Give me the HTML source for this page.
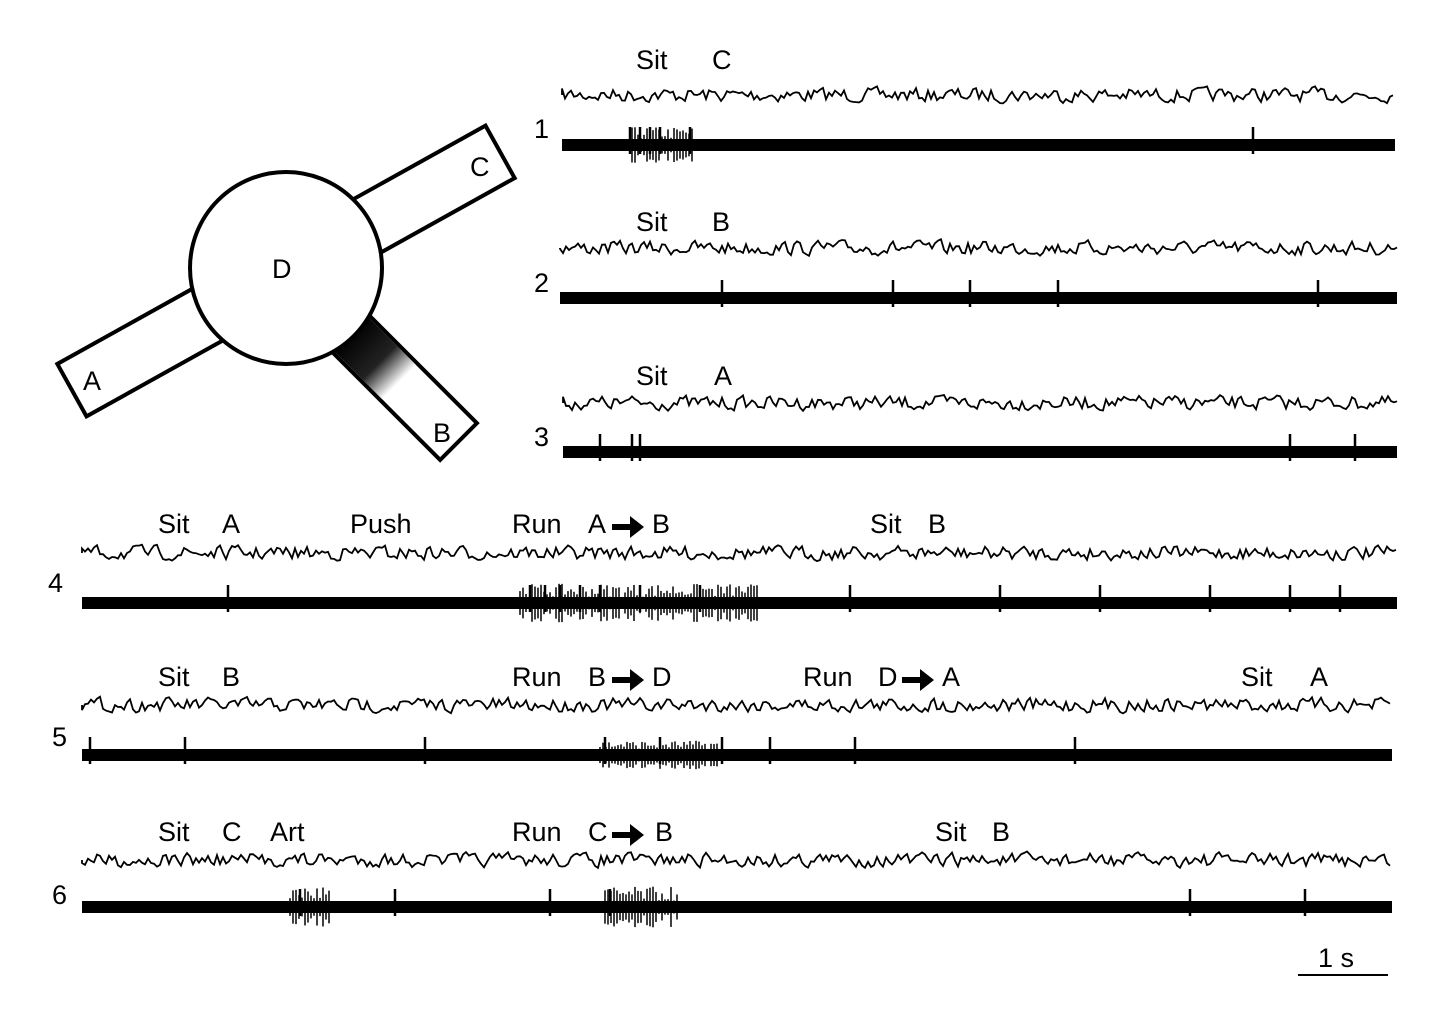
<!DOCTYPE html>
<html><head><meta charset="utf-8"><style>
html,body{margin:0;padding:0;background:#fff;}
svg{display:block;}
text{font-family:"Liberation Sans",Arial,sans-serif;font-size:27px;fill:#000;}
</style></head><body>
<svg id="s" width="1447" height="1022" viewBox="0 0 1447 1022" xmlns="http://www.w3.org/2000/svg">
<defs>
<linearGradient id="gb" x1="0" y1="0" x2="1" y2="0">
<stop offset="0" stop-color="#000"/><stop offset="0.6" stop-color="#222"/><stop offset="1" stop-color="#fff"/>
</linearGradient>
</defs>
<g stroke="#000" stroke-width="4" fill="#fff">
<rect x="-245" y="-30" width="490" height="60" transform="translate(286,271) rotate(-29.1)" />
<g transform="translate(286,269) rotate(45)">
<rect x="0" y="-26" width="244" height="52" fill="#fff"/>
<rect x="90" y="-24" width="70" height="48" fill="url(#gb)" stroke="none"/>
</g>
<circle cx="286" cy="268" r="96"/>
</g>
<text x="272" y="278">D</text>
<text x="83" y="390">A</text>
<text x="470" y="176">C</text>
<text x="433" y="442">B</text>

<text x="636" y="69">Sit</text><text x="712" y="69">C</text>
<text x="636" y="231">Sit</text><text x="712" y="231">B</text>
<text x="636" y="385">Sit</text><text x="714" y="385">A</text>
<text x="534" y="138">1</text><text x="534" y="292">2</text><text x="534" y="446">3</text>
<text x="48" y="592">4</text><text x="52" y="746">5</text><text x="52" y="904">6</text>

<text x="158" y="533">Sit</text><text x="222" y="533">A</text><text x="350" y="533">Push</text>
<text x="512" y="533">Run</text><text x="588" y="533">A</text><text x="652" y="533">B</text>
<text x="870" y="533">Sit</text><text x="928" y="533">B</text>

<text x="158" y="686">Sit</text><text x="222" y="686">B</text>
<text x="512" y="686">Run</text><text x="588" y="686">B</text><text x="652" y="686">D</text>
<text x="803" y="686">Run</text><text x="878" y="686">D</text><text x="942" y="686">A</text>
<text x="1241" y="686">Sit</text><text x="1310" y="686">A</text>

<text x="158" y="841">Sit</text><text x="222" y="841">C</text><text x="270" y="841">Art</text>
<text x="512" y="841">Run</text><text x="588" y="841">C</text><text x="655" y="841">B</text>
<text x="935" y="841">Sit</text><text x="992" y="841">B</text>

<g fill="#000">
<path d="M612 524 h18 v-8 l14 11 l-14 11 v-8 h-18z"/>
<path d="M612 677 h18 v-8 l14 11 l-14 11 v-8 h-18z"/>
<path d="M902 677 h18 v-8 l14 11 l-14 11 v-8 h-18z"/>
<path d="M612 832 h18 v-8 l14 11 l-14 11 v-8 h-18z"/>
</g>
<line x1="1298" y1="975" x2="1388" y2="975" stroke="#000" stroke-width="2"/>
<text x="1318" y="967">1 s</text>
<g id="tr"></g>
</svg>
<script>
var seed=7;function r(){seed=(seed*16807)%2147483647;return seed/2147483647;}
var g=document.getElementById('tr');var ns='http://www.w3.org/2000/svg';
function el(n,a){var e=document.createElementNS(ns,n);for(var k in a)e.setAttribute(k,a[k]);g.appendChild(e);}
var rows=[
[562,1395,95,145,[[632,695,1]],[630,640,650,660,690,1253]],
[560,1397,248,298,[],[722,893,970,1058,1318]],
[563,1397,403,452,[],[600,632,640,1290,1355]],
[82,1397,553,603,[[520,760,1.1]],[228,530,545,560,580,600,640,700,850,1000,1100,1210,1290,1340]],
[82,1392,705,755,[[600,720,0.7]],[90,185,425,605,660,722,770,855,1075]],
[82,1392,860,907,[[290,330,1.3],[605,680,1.2]],[300,395,550,610,1190,1305]]];
rows.forEach(function(R){
 var x0=R[0],x1=R[1],yu=R[2],yb=R[3];
 var d='M'+x0+' '+yu;var y=0;
 for(var x=x0;x<=x1;x+=3){y=y*0.3+(r()-0.5)*13;d+=' L'+x+' '+(yu+y).toFixed(1);}
 el('path',{d:d,fill:'none',stroke:'#000','stroke-width':1.8});
 el('rect',{x:x0,y:yb-6,width:x1-x0,height:12,fill:'#000'});
 R[4].forEach(function(b){for(var x=b[0];x<b[1];x+=3){var h=6+r()*12*b[2];el('line',{x1:x,y1:yb-h,x2:x,y2:yb+h,stroke:'#000','stroke-width':1.5});}});
 R[5].forEach(function(x){el('line',{x1:x,y1:yb-18,x2:x,y2:yb+9,stroke:'#000','stroke-width':2.5});});
});
</script>
</body></html>
